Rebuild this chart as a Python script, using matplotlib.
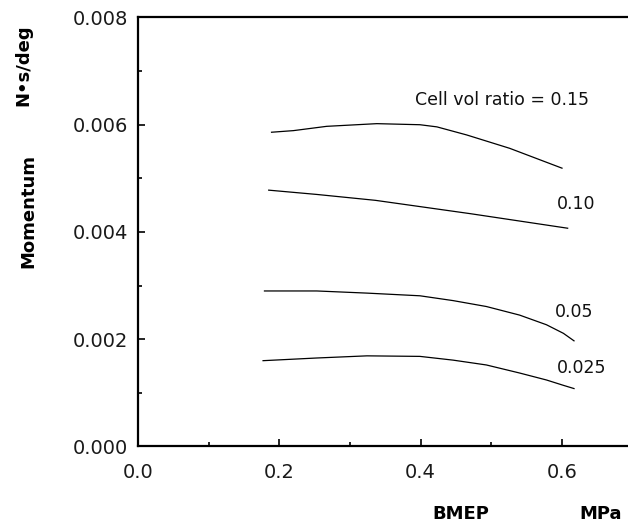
import matplotlib
matplotlib.use("Agg")
import matplotlib.pyplot as plt
from matplotlib.ticker import MultipleLocator

# values (BMEP in MPa, momentum in N*s/deg)
bmep_015 = [0.189, 0.220, 0.267, 0.338, 0.399, 0.423, 0.465, 0.526, 0.600]
mom_015 = [0.00586, 0.00589, 0.00597, 0.00602, 0.00600, 0.00596, 0.00581, 0.00556, 0.00519]

bmep_010 = [0.185, 0.253, 0.336, 0.471, 0.608]
mom_010 = [0.00478, 0.00470, 0.00459, 0.00434, 0.00407]

bmep_005 = [0.179, 0.253, 0.324, 0.399, 0.446, 0.493, 0.540, 0.578, 0.602, 0.617]
mom_005 = [0.00290, 0.00290, 0.00286, 0.00281, 0.00272, 0.00261, 0.00245, 0.00227, 0.00211, 0.00197]

bmep_0025 = [0.177, 0.253, 0.324, 0.399, 0.446, 0.493, 0.540, 0.578, 0.602, 0.617]
mom_0025 = [0.00160, 0.00165, 0.00169, 0.00168, 0.00161, 0.00152, 0.00137, 0.00124, 0.00114, 0.00108]

series = [
    (bmep_015, mom_015),
    (bmep_010, mom_010),
    (bmep_005, mom_005),
    (bmep_0025, mom_0025),
]

labels = ["Cell vol ratio = 0.15", "0.10", "0.05", "0.025"]
label_x = [0.392, 0.620, 0.617, 0.628]
label_y = [0.00647, 0.00452, 0.00250, 0.00147]
label_ha = ["left", "center", "center", "center"]

x_ticks = [0.0, 0.2, 0.4, 0.6]
y_ticks = [0.000, 0.002, 0.004, 0.006, 0.008]

plt.rcParams["font.family"] = ["DejaVu Sans"]

fig = plt.figure(figsize=(6.28, 5.28), dpi=100)
ax = fig.add_axes([0.2197, 0.1544, 0.7803, 0.8125])

for xs, ys in series:
    ax.plot(xs, ys, color="black", lw=0.9, solid_joinstyle="round")

for text, tx, ty, ha in zip(labels, label_x, label_y, label_ha):
    ax.text(tx, ty, text, ha=ha, va="center", fontsize=12.5, color="#111111")

ax.set_xlim(0, 0.6934)
ax.set_ylim(0, 0.008)
ax.set_xticks(x_ticks)
ax.set_xticklabels([f"{v:.1f}" for v in x_ticks])
ax.set_yticks(y_ticks)
ax.set_yticklabels([f"{v:.3f}" for v in y_ticks])
ax.xaxis.set_minor_locator(MultipleLocator(0.1))
ax.yaxis.set_minor_locator(MultipleLocator(0.001))
ax.tick_params(which="both", direction="in", width=1.2, labelsize=14, colors="black",
               labelcolor="#1a1a1a")
ax.tick_params(axis="x", which="major", length=5, pad=12)
ax.tick_params(axis="y", which="major", length=5, pad=7)
ax.tick_params(which="minor", length=3)
ax.tick_params(top=False, right=False, which="both")

ax.spines["right"].set_visible(False)
for side in ["left", "bottom", "top"]:
    ax.spines[side].set_linewidth(1.6)

# axis titles placed like the scanned figure
fig.text(28 / 628, 1 - 211 / 528, "Momentum", rotation=90, ha="center", va="center",
         fontsize=13, fontweight="bold")
fig.text(23 / 628, 1 - 65 / 528, "N\u2022s/deg", rotation=90, ha="center", va="center",
         fontsize=13, fontweight="bold")
fig.text(461 / 628, 1 - 514 / 528, "BMEP", ha="center", va="center",
         fontsize=13, fontweight="bold")
fig.text(601 / 628, 1 - 514 / 528, "MPa", ha="center", va="center",
         fontsize=13, fontweight="bold")

fig.savefig("out.png", dpi=100)
plt.close(fig)
